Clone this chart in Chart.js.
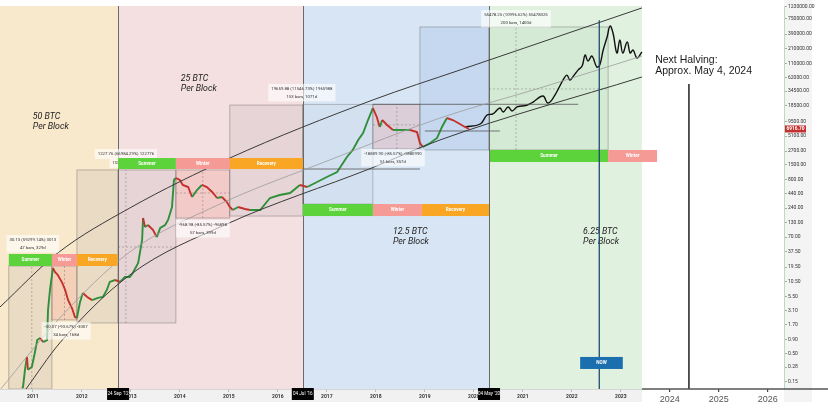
<!DOCTYPE html>
<html>
<head>
<meta charset="utf-8">
<title>Bitcoin halving cycles</title>
<script src="https://cdn.jsdelivr.net/npm/chart.js@4.4.1/dist/chart.umd.min.js"></script>
<style>
  html, body { margin: 0; padding: 0; background: #fff; }
  #wrap { width: 828px; height: 413px; position: relative; }
</style>
</head>
<body>
<div id="wrap"><canvas id="btcChart"></canvas></div>
<script>
// ---- values (x = decimal year, y = price) ----
const yearTicks = [2011, 2012, 2013, 2014, 2015, 2016, 2017, 2018, 2019, 2020, 2021, 2022, 2023, 2024, 2025, 2026];
const priceTicks = [0.15, 0.28, 0.5, 0.9, 1.7, 3.1, 5.5, 10.5, 19.5, 37.5, 70, 130, 240, 440, 800, 1500,
  2700, 5100, 9500, 18500, 34500, 62000, 110000, 210000, 390000, 750000, 1230000];

const history = [
  [2010.78, 0.115], [2010.80, 0.12], [2010.84, 0.25], [2010.88, 0.43], [2010.90, 0.25], [2010.98, 0.28],
  [2011.04, 0.51], [2011.09, 0.88], [2011.15, 0.96], [2011.21, 0.81], [2011.29, 0.88], [2011.31, 3.16],
  [2011.35, 7.4], [2011.41, 18.8], [2011.45, 15.9], [2011.51, 14.0], [2011.60, 10.0], [2011.66, 7.4],
  [2011.72, 4.8], [2011.80, 3.4], [2011.86, 2.35], [2011.90, 2.25], [2011.96, 4.3], [2012.02, 6.5],
  [2012.11, 5.5], [2012.21, 4.8], [2012.33, 5.3], [2012.43, 5.5], [2012.51, 7.4], [2012.57, 10.4],
  [2012.68, 11.3], [2012.78, 10.4], [2012.88, 12.8], [2012.98, 12.8], [2013.04, 15.2], [2013.15, 23.3],
  [2013.23, 62], [2013.25, 157], [2013.29, 107], [2013.35, 117], [2013.45, 95], [2013.53, 70],
  [2013.60, 103], [2013.70, 117], [2013.76, 145], [2013.84, 251], [2013.88, 791], [2013.92, 861],
  [2014.00, 791], [2014.06, 640], [2014.17, 587], [2014.25, 384], [2014.35, 517], [2014.45, 640],
  [2014.55, 587], [2014.66, 475], [2014.76, 368], [2014.86, 384], [2014.96, 311], [2015.02, 251],
  [2015.08, 221], [2015.19, 251], [2015.33, 231], [2015.43, 221], [2015.64, 221], [2015.84, 368],
  [2016.04, 418], [2016.25, 455], [2016.45, 640], [2016.60, 587], [2016.80, 726], [2017.00, 898],
  [2017.21, 1111], [2017.41, 2100], [2017.53, 2830], [2017.64, 4330], [2017.74, 5820], [2017.84, 10100],
  [2017.94, 16800], [2018.02, 11500], [2018.08, 7500], [2018.13, 10100], [2018.23, 8200], [2018.35, 6620],
  [2018.49, 6620], [2018.70, 6620], [2018.84, 6080], [2018.90, 3810], [2018.96, 3210], [2019.11, 3810],
  [2019.25, 4710], [2019.35, 7520], [2019.45, 11000], [2019.57, 10100], [2019.68, 8900], [2019.82, 7520],
  [2019.90, 6917]
];

const projection = [
  [2019.82, 7520], [2020.13, 8530], [2020.27, 12500], [2020.39, 13060], [2020.53, 16800], [2020.60, 14200],
  [2020.70, 17600], [2020.78, 14800], [2020.88, 17600], [2020.98, 18300], [2021.09, 19100], [2021.21, 21700],
  [2021.41, 28000], [2021.51, 20800], [2021.62, 25800], [2021.82, 55000], [2021.90, 68000], [2021.96, 55000],
  [2022.02, 63000], [2022.13, 85000], [2022.21, 100000], [2022.27, 160000], [2022.33, 124000], [2022.41, 153000],
  [2022.51, 96000], [2022.57, 105000], [2022.64, 198000], [2022.72, 344000], [2022.78, 548000], [2022.84, 407000],
  [2022.92, 174000], [2022.98, 303000], [2023.04, 174000], [2023.13, 278000], [2023.19, 174000], [2023.25, 198000],
  [2023.33, 141000], [2023.43, 182000]
];

const upperBand = [[2010.33, 3.59], [2011.51, 35.6], [2012.98, 241], [2015.02, 2010], [2017.94, 23700], [2019.72, 84700], [2023.43, 1180000]];
const middleBand = [[2010.33, 0.106], [2011.55, 2.25], [2012.98, 37.2], [2014.82, 285], [2017.06, 1850], [2019.31, 11000], [2021.35, 39400], [2023.43, 153000]];
const lowerBand = [[2010.86, 0.110], [2011.55, 0.78], [2012.98, 14.0], [2014.96, 122], [2017.92, 1320], [2019.31, 4330], [2023.43, 62800]];

// horizontal levels: from year, to year, price
const levels = [[2017.94, 2022.13, 19700], [2019.00, 2020.53, 6340], [2016.51, 2018.90, 1260]];

// reward eras
const eraEdges = [2010.33, 2012.74, 2016.51, 2020.31, 2023.43];
const eraNames = [['50 BTC', 'Per Block'], ['25 BTC', 'Per Block'], ['12.5 BTC', 'Per Block'], ['6.25 BTC', 'Per Block']];
const eraLabelAt = [[2011.00, 11500], [2014.02, 57800], [2018.35, 86.9], [2022.23, 86.9]];
const halvingDates = ["24 Sep '12", "04 Jul '16", "04 May '20"];

// cycle phases
const phaseNames = ['Summer', 'Winter', 'Recovery'];
const phaseEdges = [
  [2010.51, 2011.39, 2011.90, 2012.73],
  [2012.74, 2013.92, 2015.02, 2016.51],
  [2016.51, 2017.94, 2018.94, 2020.31],
  [2020.33, 2022.74, 2023.74]
];
const phaseBands = [[20.5, 34.1], [1260, 2010], [171, 285], [1700, 2830]];

// measurement boxes: from year, to year, low, high, tint
const measureBoxes = [
  [2010.51, 2011.39, 0.11, 20.5, 'gray'], [2011.39, 2011.90, 2.07, 20.5, 'red'],
  [2011.90, 2012.74, 1.82, 1210, 'gray'], [2012.74, 2013.92, 1.82, 1210, 'gray'],
  [2013.92, 2015.02, 157, 1210, 'red'], [2015.02, 2016.51, 171, 19100, 'gray'],
  [2016.51, 2017.94, 285, 19700, 'pale'], [2017.94, 2018.90, 2950, 19700, 'red'],
  [2018.90, 2020.31, 2830, 526000, 'blue'], [2020.31, 2022.74, 2830, 526000, 'green']
];
// dashed guides: x1, x2, y1, y2
const guides = [
  [2020.86, 2020.86, 2830, 526000], [2020.31, 2022.74, 37800, 37800],
  [2012.90, 2012.90, 1.82, 1210], [2012.74, 2013.92, 45.9, 45.9],
  [2018.43, 2018.43, 2950, 19700], [2017.94, 2018.90, 8200, 8200],
  [2014.47, 2014.47, 157, 1210], [2013.92, 2015.02, 455, 455],
  [2011.65, 2011.65, 2.07, 20.5], [2010.98, 2010.98, 0.11, 20.5]
];
const measureNotes = [
  [2011.00, 61.8, ['30.13 (59299.14%) 3013', '47 bars, 329d']],
  [2011.68, 1.53, ['-30.07 (-93.67%) -3007', '34 bars, 168d']],
  [2012.90, 2390, ['1227.76 (66984.29%) 122776']],
  [2012.70, 1630, ['102']],
  [2014.47, 117, ['-968.98 (-85.57%) -96898', '57 bars, 399d']],
  [2016.49, 37800, ['19659.88 (11546.73%) 1965988', '153 bars, 1071d']],
  [2018.35, 2390, ['-18809.90 (-85.57%) -1880990', '51 bars, 357d']],
  [2020.86, 875000, ['55478.25 (10996.62%) 55478325', '200 bars, 1400d']]
];

const nowLine = [2022.56, 700000];
const nowBox = [2022.17, 2023.04, 0.258, 0.43];
const nextHalving = [2024.39, 46700];
const nextHalvingText = [2023.70, 129000, 'Next Halving:', 'Approx. May 4, 2024'];
const lastPrice = 6916.70;

const toPoints = arr => arr.map(p => ({ x: p[0], y: p[1] }));

const tints = {
  gray: ['rgba(120,120,135,0.11)', 'rgba(95,95,95,0.55)'],
  pale: ['rgba(120,130,150,0.05)', 'rgba(95,95,95,0.5)'],
  red: ['rgba(235,115,105,0.20)', 'rgba(95,95,95,0.55)'],
  blue: ['rgba(80,130,210,0.13)', 'rgba(95,95,95,0.55)'],
  green: ['rgba(110,180,110,0.10)', 'rgba(95,95,95,0.55)']
};
const eraFill = ['#f8e8cc', '#f4e0e0', '#d8e5f4', '#e0f1e0'];
const phaseFill = { Summer: '#5cd23b', Winter: '#f69a96', Recovery: '#f8a623' };

const cycleArt = {
  id: 'cycleArt',
  beforeDraw(chart) {
    const { ctx, width, height, chartArea: a } = chart;
    const X = chart.scales.x;
    ctx.save();
    ctx.fillStyle = '#fff';
    ctx.fillRect(0, 0, width, height);
    ctx.fillStyle = '#f4f4f4';
    ctx.fillRect(a.right, 0, 28, a.bottom + 13);
    ctx.fillStyle = '#f1f1f1';
    ctx.fillRect(0, a.bottom, X.getPixelForValue(eraEdges[eraEdges.length - 1]), 13);
    ctx.restore();
  },
  beforeDatasetsDraw(chart) {
    const { ctx, chartArea: a } = chart;
    const X = chart.scales.x, Y = chart.scales.y;
    ctx.save();
    ctx.beginPath();
    ctx.rect(a.left, a.top, a.right - a.left, a.bottom - a.top);
    ctx.clip();

    // era backgrounds
    for (let i = 0; i < eraFill.length; i++) {
      const x1 = X.getPixelForValue(eraEdges[i]), x2 = X.getPixelForValue(eraEdges[i + 1]);
      ctx.fillStyle = eraFill[i];
      ctx.fillRect(x1, a.top, x2 - x1, a.bottom - a.top);
    }

    // measurement boxes
    measureBoxes.forEach(b => {
      const x1 = X.getPixelForValue(b[0]), x2 = X.getPixelForValue(b[1]);
      const y1 = Y.getPixelForValue(b[3]), y2 = Y.getPixelForValue(b[2]);
      ctx.fillStyle = tints[b[4]][0];
      ctx.fillRect(x1, y1, x2 - x1, y2 - y1);
      ctx.strokeStyle = tints[b[4]][1];
      ctx.lineWidth = 0.7;
      ctx.strokeRect(x1, y1, x2 - x1, y2 - y1);
    });

    // dashed guides
    ctx.setLineDash([2, 2]);
    ctx.strokeStyle = 'rgba(90,90,90,0.6)';
    ctx.lineWidth = 0.6;
    guides.forEach(g => {
      ctx.beginPath();
      ctx.moveTo(X.getPixelForValue(g[0]), Y.getPixelForValue(g[2]));
      ctx.lineTo(X.getPixelForValue(g[1]), Y.getPixelForValue(g[3]));
      ctx.stroke();
    });
    ctx.setLineDash([]);

    // halving lines
    ctx.strokeStyle = '#6a6a6a';
    ctx.lineWidth = 1;
    eraEdges.slice(1, 4).forEach(v => {
      const xp = Math.round(X.getPixelForValue(v)) + 0.5;
      ctx.beginPath();
      ctx.moveTo(xp, a.top);
      ctx.lineTo(xp, a.bottom);
      ctx.stroke();
    });

    // era labels
    ctx.fillStyle = '#222';
    ctx.font = 'italic 8.8px Roboto';
    ctx.textBaseline = 'middle';
    ctx.textAlign = 'left';
    eraNames.forEach((n, i) => {
      const xp = X.getPixelForValue(eraLabelAt[i][0]);
      const yp = Y.getPixelForValue(eraLabelAt[i][1]);
      ctx.fillText(n[0], xp, yp);
      ctx.fillText(n[1], xp, yp + 10);
    });
    ctx.restore();
  },
  afterDatasetsDraw(chart) {
    const { ctx, chartArea: a } = chart;
    const X = chart.scales.x, Y = chart.scales.y;
    ctx.save();

    // measurement notes
    ctx.font = '4.3px Roboto';
    ctx.textAlign = 'center';
    ctx.textBaseline = 'middle';
    measureNotes.forEach(m => {
      const xp = X.getPixelForValue(m[0]), yp = Y.getPixelForValue(m[1]);
      const w = Math.max(...m[2].map(t => ctx.measureText(t).width)) + 6;
      ctx.fillStyle = 'rgba(255,255,255,0.6)';
      ctx.fillRect(xp - w / 2, yp - 5, w, m[2].length * 7.5 + 2.5);
      ctx.fillStyle = '#333';
      m[2].forEach((t, i) => ctx.fillText(t, xp, yp + i * 7.5));
    });

    // phase bars
    ctx.font = 'bold 4.6px Roboto';
    phaseEdges.forEach((edges, c) => {
      const y1 = Y.getPixelForValue(phaseBands[c][1]), y2 = Y.getPixelForValue(phaseBands[c][0]);
      for (let i = 0; i < edges.length - 1; i++) {
        const x1 = X.getPixelForValue(edges[i]), x2 = X.getPixelForValue(edges[i + 1]);
        ctx.fillStyle = phaseFill[phaseNames[i]];
        ctx.fillRect(x1, y1, x2 - x1, y2 - y1);
        ctx.fillStyle = '#fff';
        ctx.fillText(phaseNames[i], (x1 + x2) / 2, (y1 + y2) / 2);
      }
    });

    // "now" line and box
    const nx = X.getPixelForValue(nowLine[0]);
    ctx.strokeStyle = '#1d4d6d';
    ctx.lineWidth = 1.3;
    ctx.beginPath();
    ctx.moveTo(nx, Y.getPixelForValue(nowLine[1]));
    ctx.lineTo(nx, a.bottom);
    ctx.stroke();
    const bx1 = X.getPixelForValue(nowBox[0]), bx2 = X.getPixelForValue(nowBox[1]);
    const by1 = Y.getPixelForValue(nowBox[3]), by2 = Y.getPixelForValue(nowBox[2]);
    ctx.fillStyle = '#1b6fae';
    ctx.fillRect(bx1, by1, bx2 - bx1, by2 - by1);
    ctx.fillStyle = '#fff';
    ctx.fillText('NOW', (bx1 + bx2) / 2, (by1 + by2) / 2);

    // next halving
    const hx = X.getPixelForValue(nextHalving[0]);
    ctx.strokeStyle = '#111';
    ctx.lineWidth = 1.4;
    ctx.beginPath();
    ctx.moveTo(hx, Y.getPixelForValue(nextHalving[1]));
    ctx.lineTo(hx, a.bottom);
    ctx.stroke();
    ctx.fillStyle = '#1a1a1a';
    ctx.font = '10.5px "Liberation Sans"';
    ctx.textAlign = 'left';
    const tx = X.getPixelForValue(nextHalvingText[0]), ty = Y.getPixelForValue(nextHalvingText[1]);
    ctx.fillText(nextHalvingText[2], tx, ty);
    ctx.fillText(nextHalvingText[3], tx, ty + 11.5);
    ctx.restore();
  },
  afterDraw(chart) {
    const { ctx, width, chartArea: a } = chart;
    const X = chart.scales.x, Y = chart.scales.y;
    ctx.save();
    // axis baseline
    const endX = X.getPixelForValue(eraEdges[eraEdges.length - 1]);
    ctx.strokeStyle = '#cfcfcf';
    ctx.lineWidth = 0.8;
    ctx.beginPath();
    ctx.moveTo(0, a.bottom + 0.5);
    ctx.lineTo(endX, a.bottom + 0.5);
    ctx.stroke();
    ctx.strokeStyle = '#555';
    ctx.lineWidth = 1.5;
    ctx.beginPath();
    ctx.moveTo(endX, a.bottom);
    ctx.lineTo(width, a.bottom);
    ctx.stroke();

    // halving date tags
    ctx.font = '4.6px Roboto';
    ctx.textAlign = 'center';
    ctx.textBaseline = 'middle';
    eraEdges.slice(1, 4).forEach((v, i) => {
      const xp = X.getPixelForValue(v);
      ctx.fillStyle = '#000';
      ctx.fillRect(xp - 11, a.bottom - 1, 22, 12);
      ctx.fillStyle = '#fff';
      ctx.fillText(halvingDates[i], xp, a.bottom + 5);
    });

    // last price tag
    const py = Y.getPixelForValue(lastPrice);
    ctx.fillStyle = '#c62f2f';
    ctx.fillRect(a.right + 1, py - 3.5, 21, 7);
    ctx.fillStyle = '#fff';
    ctx.font = 'bold 4.8px Roboto';
    ctx.fillText(lastPrice.toFixed(2), a.right + 11.5, py);
    ctx.restore();
  }
};

const ctxEl = document.getElementById('btcChart');
new Chart(ctxEl, {
  type: 'line',
  data: {
    datasets: [
      { data: toPoints(upperBand), borderColor: '#3a3a3a', borderWidth: 1, cubicInterpolationMode: 'monotone' },
      { data: toPoints(middleBand), borderColor: '#9c9c9c', borderWidth: 0.8, cubicInterpolationMode: 'monotone' },
      { data: toPoints(lowerBand), borderColor: '#3a3a3a', borderWidth: 1, cubicInterpolationMode: 'monotone' },
      ...levels.map(l => ({
        data: [{ x: l[0], y: l[2] }, { x: l[1], y: l[2] }],
        borderColor: '#555', borderWidth: 0.8
      })),
      {
        data: toPoints(history),
        borderWidth: 1.9,
        borderColor: '#2f8f3a',
        segment: {
          borderColor: c => c.p1.parsed.y >= c.p0.parsed.y ? '#2f8f3a' : '#c4302b'
        }
      },
      { data: toPoints(projection), borderColor: '#111', borderWidth: 1.4, tension: 0.4 }
    ]
  },
  options: {
    responsive: true,
    maintainAspectRatio: false,
    animation: false,
    layout: { padding: { top: 6, left: 0, right: 0, bottom: 0 } },
    elements: { point: { radius: 0 } },
    plugins: { legend: { display: false }, tooltip: { enabled: false } },
    scales: {
      x: {
        type: 'linear',
        min: 2010.33,
        max: 2026.33,
        afterBuildTicks: s => { s.ticks = yearTicks.map(v => ({ value: v })); },
        afterFit: s => { s.height = 24; },
        border: { display: false },
        grid: {
          drawOnChartArea: false,
          tickLength: 3,
          color: c => (c.tick && c.tick.value >= 2024) ? '#444' : '#999',
          lineWidth: c => (c.tick && c.tick.value >= 2024) ? 1.2 : 0.6
        },
        ticks: {
          autoSkip: false,
          maxRotation: 0,
          padding: 2,
          callback: v => String(v),
          color: c => (c.tick && c.tick.value >= 2024) ? '#555' : '#333',
          font: c => (c.tick && c.tick.value >= 2024)
            ? { family: '"Liberation Sans"', size: 9 }
            : { family: 'Roboto', size: 5, weight: 'bold' }
        }
      },
      y: {
        type: 'logarithmic',
        position: 'right',
        min: 0.1102,
        max: 1282000,
        afterBuildTicks: s => { s.ticks = priceTicks.map(v => ({ value: v })); },
        afterFit: s => { s.width = 44; },
        border: { display: true, color: '#b8dcc0', width: 1 },
        grid: { drawOnChartArea: false, tickLength: 3, color: '#777', lineWidth: 0.6 },
        ticks: {
          padding: 1,
          color: '#333',
          font: { family: 'Roboto', size: 5 },
          callback: v => Number(v).toFixed(2)
        }
      }
    }
  },
  plugins: [cycleArt]
});
</script>
</body>
</html>
